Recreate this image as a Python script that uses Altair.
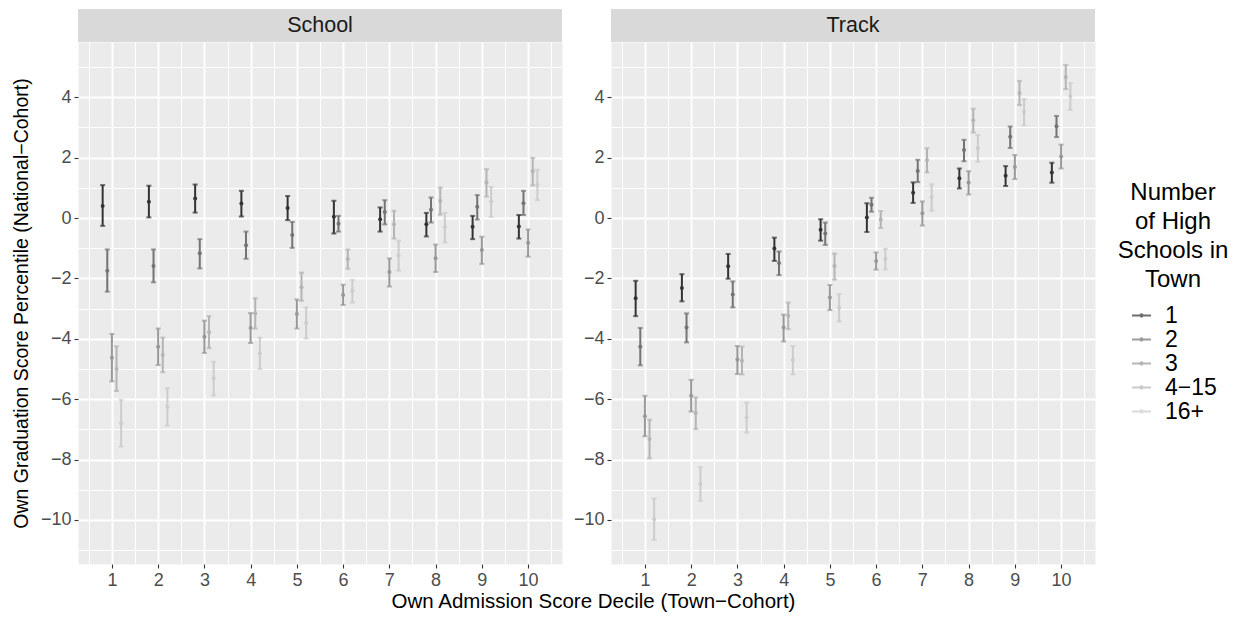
import altair as alt
import pandas as pd

deciles = list(range(1, 11))
groups = ["1", "2", "3", "4−15", "16+"]
greys = ["#333333", "#737373", "#989898", "#B4B4B4", "#CCCCCC"]
panels = ["School", "Track"]

# ---- School panel: mean, lower, upper per decile for each group ----
school_mean_1 = [0.40, 0.54, 0.65, 0.48, 0.33, 0.04, -0.04, -0.21, -0.29, -0.28]
school_lo_1 = [-0.26, 0.02, 0.18, 0.05, -0.07, -0.51, -0.45, -0.61, -0.70, -0.68]
school_hi_1 = [1.09, 1.07, 1.11, 0.90, 0.73, 0.57, 0.35, 0.17, 0.07, 0.10]

school_mean_2 = [-1.75, -1.59, -1.17, -0.90, -0.56, -0.19, 0.20, 0.27, 0.37, 0.49]
school_lo_2 = [-2.44, -2.13, -1.67, -1.35, -0.99, -0.45, -0.21, -0.15, -0.05, 0.10]
school_hi_2 = [-1.04, -1.04, -0.70, -0.45, -0.13, 0.07, 0.59, 0.68, 0.76, 0.90]

school_mean_3 = [-4.63, -4.26, -3.93, -3.64, -3.18, -2.55, -1.79, -1.33, -1.06, -0.82]
school_lo_3 = [-5.41, -4.87, -4.47, -4.14, -3.66, -2.88, -2.27, -1.79, -1.52, -1.28]
school_hi_3 = [-3.84, -3.66, -3.40, -3.15, -2.70, -2.21, -1.34, -0.88, -0.62, -0.38]

school_mean_4 = [-5.00, -4.54, -3.78, -3.16, -2.29, -1.36, -0.21, 0.57, 1.18, 1.55]
school_lo_4 = [-5.73, -5.11, -4.31, -3.66, -2.74, -1.68, -0.68, 0.11, 0.71, 1.08]
school_hi_4 = [-4.25, -3.96, -3.25, -2.66, -1.81, -1.04, 0.24, 1.01, 1.62, 1.99]

school_mean_5 = [-6.80, -6.26, -5.31, -4.48, -3.47, -2.41, -1.24, -0.31, 0.55, 1.10]
school_lo_5 = [-7.57, -6.88, -5.88, -5.00, -3.99, -2.80, -1.74, -0.81, 0.04, 0.59]
school_hi_5 = [-6.02, -5.64, -4.76, -3.96, -2.96, -2.05, -0.75, 0.17, 1.03, 1.60]

# ---- Track panel ----
track_mean_1 = [-2.66, -2.32, -1.60, -1.01, -0.39, 0.02, 0.84, 1.32, 1.40, 1.51]
track_lo_1 = [-3.25, -2.76, -2.01, -1.42, -0.75, -0.46, 0.50, 0.98, 1.06, 1.17]
track_hi_1 = [-2.08, -1.86, -1.19, -0.65, -0.04, 0.49, 1.18, 1.64, 1.72, 1.83]

track_mean_2 = [-4.26, -3.63, -2.53, -1.49, -0.51, 0.44, 1.56, 2.25, 2.69, 3.04]
track_lo_2 = [-4.88, -4.12, -2.96, -1.89, -0.89, 0.21, 1.19, 1.88, 2.32, 2.68]
track_hi_2 = [-3.64, -3.16, -2.10, -1.11, -0.15, 0.67, 1.93, 2.59, 3.03, 3.38]

track_mean_3 = [-6.57, -5.89, -4.69, -3.63, -2.63, -1.42, 0.16, 1.18, 1.69, 2.04]
track_lo_3 = [-7.23, -6.41, -5.17, -4.09, -3.05, -1.71, -0.25, 0.78, 1.29, 1.64]
track_hi_3 = [-5.89, -5.36, -4.24, -3.20, -2.22, -1.14, 0.55, 1.55, 2.09, 2.43]

track_mean_4 = [-7.32, -6.46, -4.73, -3.24, -1.59, -0.05, 1.92, 3.24, 4.14, 4.67]
track_lo_4 = [-7.96, -6.99, -5.18, -3.68, -2.04, -0.33, 1.51, 2.83, 3.74, 4.27]
track_hi_4 = [-6.68, -5.94, -4.26, -2.80, -1.18, 0.23, 2.31, 3.62, 4.54, 5.07]

track_mean_5 = [-9.98, -8.81, -6.61, -4.70, -2.96, -1.35, 0.69, 2.31, 3.52, 4.03]
track_lo_5 = [-10.66, -9.37, -7.11, -5.18, -3.43, -1.70, 0.24, 1.86, 3.07, 3.58]
track_hi_5 = [-9.29, -8.25, -6.11, -4.24, -2.52, -1.02, 1.12, 2.75, 3.94, 4.47]

series = {
    "School": [
        (school_mean_1, school_lo_1, school_hi_1),
        (school_mean_2, school_lo_2, school_hi_2),
        (school_mean_3, school_lo_3, school_hi_3),
        (school_mean_4, school_lo_4, school_hi_4),
        (school_mean_5, school_lo_5, school_hi_5),
    ],
    "Track": [
        (track_mean_1, track_lo_1, track_hi_1),
        (track_mean_2, track_lo_2, track_hi_2),
        (track_mean_3, track_lo_3, track_hi_3),
        (track_mean_4, track_lo_4, track_hi_4),
        (track_mean_5, track_lo_5, track_hi_5),
    ],
}

rows = []
for p in panels:
    for gi, (m, lo, hi) in enumerate(series[p]):
        for k, d in enumerate(deciles):
            rows.append({"panel": p, "decile": d, "group": groups[gi], "gidx": gi,
                         "mean": m[k], "lo": lo[k], "hi": hi[k]})
df = pd.DataFrame(rows)

FONT = "Liberation Sans"
W, H = 484, 522
STRIP = 33

xscale = alt.Scale(domain=[0.267, 10.733], nice=False, zero=False)
yscale = alt.Scale(domain=[-11.46, 5.83], nice=False, zero=False)

x_vals = [v / 2 for v in range(1, 22)]
y_vals = list(range(-11, 6))


def x_axis(show_title):
    kw = dict(
        values=x_vals,
        tickCount=len(x_vals) + 5,
        labelOverlap=False,
        labelExpr="datum.value % 1 === 0 ? format(datum.value, 'd') : ''",
        gridWidth={"condition": {"test": "datum.value % 1 !== 0", "value": 0.95}, "value": 1.9},
        tickOpacity={"condition": {"test": "datum.value % 1 !== 0", "value": 0}, "value": 1},
        labelPadding=3,
    )
    if show_title:
        kw.update(title="Own Admission Score Decile (Town−Cohort)", titleX=515,
                  titleAnchor="middle", titleAlign="center", titlePadding=2)
    else:
        kw.update(title="")
    return alt.Axis(**kw)


def y_axis(show_title):
    kw = dict(
        values=y_vals,
        tickCount=len(y_vals) + 5,
        labelOverlap=False,
        labelExpr="datum.value % 2 === 0 ? datum.label : ''",
        gridWidth={"condition": {"test": "datum.value % 2 !== 0", "value": 0.95}, "value": 1.9},
        tickOpacity={"condition": {"test": "datum.value % 2 !== 0", "value": 0}, "value": 1},
        labelPadding=3,
    )
    if show_title:
        kw.update(title="Own Graduation Score Percentile (National−Cohort)", titlePadding=9,
                  titleFontSize=19.5)
    else:
        kw.update(title="")
    return alt.Axis(**kw)


color = alt.Color(
    "group:N",
    scale=alt.Scale(domain=groups, range=greys),
    legend=alt.Legend(
        title=["Number", "of High", "Schools in", "Town"],
        orient="none", legendX=1040, legendY=139,
        titleFontSize=24, titleLineHeight=29, titleAlign="center", titleAnchor="middle",
        titleFont=FONT, titleColor="#000000", titleFontWeight="normal", titlePadding=12,
        labelFontSize=23, labelFont=FONT, labelColor="#000000", labelOffset=12,
        symbolType="M-1,0H1M-0.12,0A0.12,0.12,0,1,1,0.12,0A0.12,0.12,0,1,1,-0.12,0",
        symbolSize=361, symbolStrokeWidth=2, rowPadding=-1.5, padding=0,
    ),
)


def panel(name, first):
    base = alt.Chart(df).transform_filter(alt.datum.panel == name).transform_calculate(
        xpos="datum.decile + (datum.gidx - 2) * 0.1"
    )
    X = alt.X("xpos:Q", scale=xscale, axis=x_axis(first))

    def Y(field):
        return alt.Y(f"{field}:Q", scale=yscale, axis=y_axis(first))

    bars = base.mark_rule(strokeWidth=2).encode(x=X, y=Y("lo"), y2="hi:Q", color=color)
    cap_lo = base.mark_tick(orient="horizontal", size=5, thickness=2).encode(x=X, y=Y("lo"), color=color)
    cap_hi = base.mark_tick(orient="horizontal", size=5, thickness=2).encode(x=X, y=Y("hi"), color=color)
    pts = base.mark_circle(size=16, opacity=1).encode(x=X, y=Y("mean"), color=color)

    lab = pd.DataFrame({"panel": [name]})
    strip_bg = alt.Chart(lab).mark_rect(color="#D9D9D9").encode(
        x=alt.value(0), x2=alt.value(W), y=alt.value(-STRIP), y2=alt.value(0)
    )
    strip_tx = alt.Chart(lab).mark_text(fontSize=21.5, font=FONT, color="#1A1A1A",
                                        baseline="middle", align="center").encode(
        x=alt.value(W / 2), y=alt.value(-STRIP / 2), text="panel:N"
    )
    return alt.layer(strip_bg, strip_tx, bars, cap_lo, cap_hi, pts).properties(width=W, height=H)


chart = alt.hconcat(panel("School", True), panel("Track", False), spacing=49, bounds="flush",
                    padding={"left": 2, "top": 0, "right": 0, "bottom": 0})

chart = chart.configure_view(fill="#EBEBEB", stroke="transparent").configure_axis(
    domain=False,
    grid=True,
    gridColor="#FFFFFF",
    tickColor="#333333",
    tickSize=4,
    tickWidth=1.1,
    labelColor="#4D4D4D",
    labelFontSize=18,
    labelFont=FONT,
    titleFont=FONT,
    titleFontSize=20.5,
    titleFontWeight="normal",
    titleColor="#000000",
).configure_legend(padding=0)

chart.save("out.html", embed_options={"renderer": "svg", "actions": False})
